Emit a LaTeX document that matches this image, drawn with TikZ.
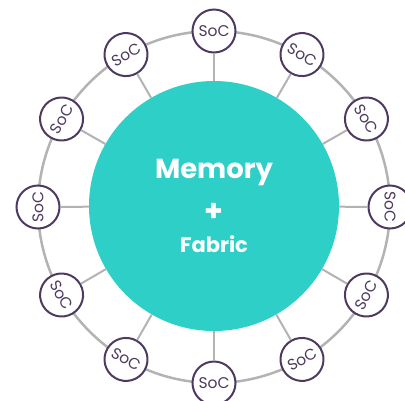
\documentclass[tikz,border=0pt]{standalone}
\usepackage{fontspec}
\setmainfont{Poppins}
\usepackage{tikz}
\usetikzlibrary{calc}

\definecolor{hubteal}{HTML}{2ECFC7}
\definecolor{socpurple}{HTML}{4E3A60}
\definecolor{ringgray}{HTML}{B3B3B3}

\begin{document}
\begin{tikzpicture}[x=1pt,y=-1pt]
        \tikzstyle{every node}+=[inner sep=0pt]
        \tikzstyle{soc}=[circle, draw=socpurple, line width=2pt, fill=white, minimum size=43pt, text=socpurple, font=\fontsize{15.5}{17}\selectfont]
        \tikzstyle{spoke}=[draw=ringgray, line width=2pt]
        \useasboundingbox (0,0) rectangle (405,400);
        % ring behind the nodes
        \draw [ringgray, line width=2.5pt] (214,207) circle (176);
        \node [circle, fill=hubteal, minimum size=250pt] (hub) at (214,206) {};
        \node [text=white, font=\bfseries\fontsize{27.5}{30}\selectfont] (mem) at (214,172) {Memory};
        \node [text=white, font=\bfseries\fontsize{30}{32}\selectfont] (plus) at (214,212) {+};
        \node [text=white, font=\bfseries\fontsize{21}{24}\selectfont] (fab) at (214,244) {Fabric};
        \foreach \a/\r [count=\i] in {90/0, 60/-30, 30/-60, 0/-90, -30/60, -60/30, -90/0, -120/-30, -150/-60, 180/90, 150/60, 120/30} {
            \node [soc, rotate=\r] (soc\i) at ($(214,207)+(\a:176 and -176)$) {SoC};
            \draw [spoke] (hub) -- (soc\i);
        }
    \end{tikzpicture}
\end{document}
